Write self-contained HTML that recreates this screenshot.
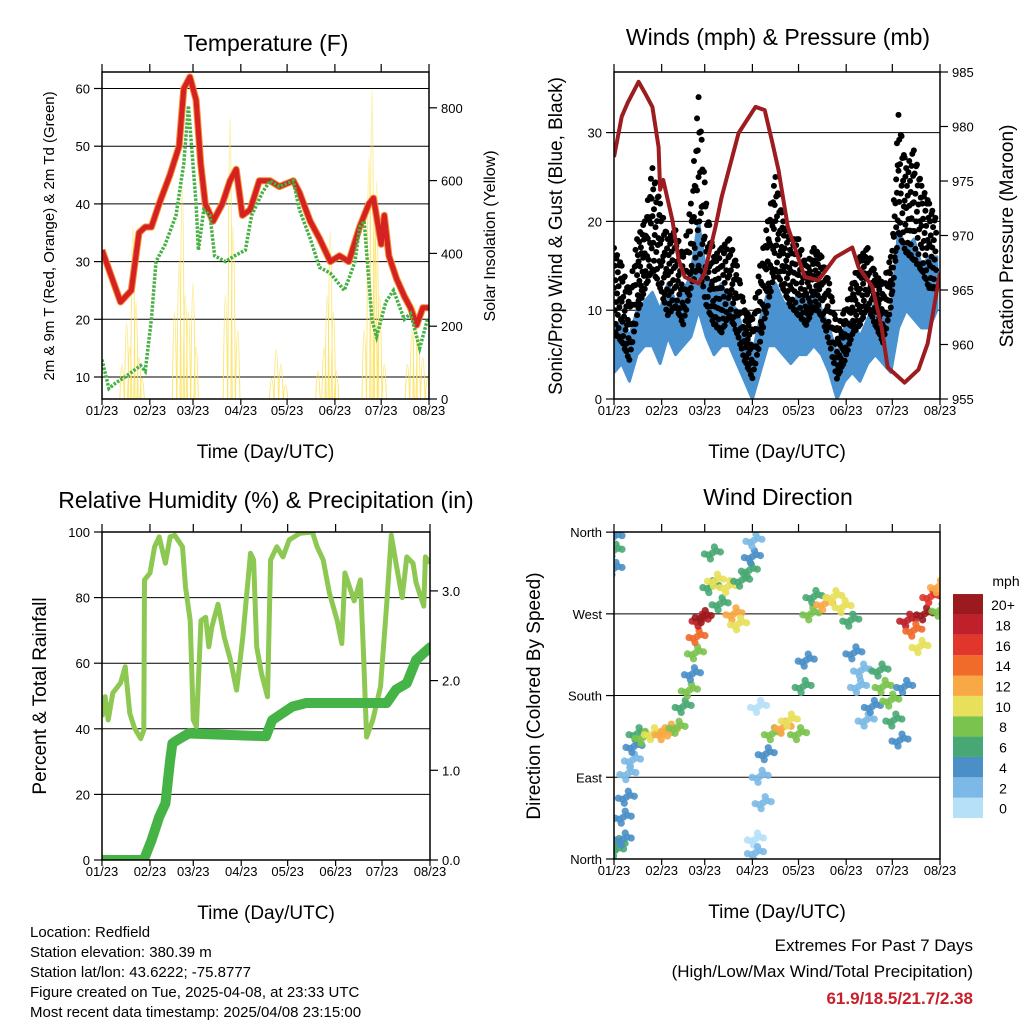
<!DOCTYPE html>
<html><head><meta charset="utf-8"><style>
html,body{margin:0;padding:0;background:#fff}
svg{display:block}
text{font-family:"Liberation Sans",Arial,sans-serif;fill:#000}
</style></head><body>
<svg id="c" width="1024" height="1024" viewBox="0 0 1024 1024" xmlns="http://www.w3.org/2000/svg"></svg>
<script>
// ---------- data ----------
const monthLabels = ["01/23","02/23","03/23","04/23","05/23","06/23","07/23","08/23"];
const monthDays = [0,31,59,90,120,151,181,212];
// Temperature panel
const tempDays = [0,12,19,24,28,32,37,44,50,53,57,61,64,67,72,78,83,87,91,96,102,109,115,124,128,135,141,148,154,160,167,173,176,181,183,186,191,196,200,204,208,212];
const tempVals = [32,23,25,35,36,36,40,45,50,60,62,58,47,40,37,40,44,46,38,39,44,44,43,44,42,37,34,30,31,30,36,40,41,33,38,31,27,24,22,19,22,22];
const dewDays = [0,4.5,9,15,25,28,32,35,41,48,53,56,61,62.5,66,70,73,80,86,93,97,104,109,115,124,128,135,141,148,157,160,164,167,170,175,178,184,189,196,200,206,211];
const dewVals = [13,8,9,10,12,11,20,30,33,38,47,57,40,32,39,38,31,30,31,32,38,42,44,43,44,39,34,29,28,25,27,30,36,37,20,17,23,25,20,21,15,20];
const solarDays = [13,16,18,20,22,24,26,47,50,52,54,56,59,61,80,83,85,88,110,113,116,119,140,144,146,148,150,152,170,173,175,177,178,180,183,198,201,203,205,208,211];
const solarPeaks = [100,220,150,500,280,120,60,250,400,620,300,250,335,150,300,813,500,200,60,143,100,40,80,150,300,486,250,80,200,700,895,500,630,300,100,100,200,270,180,120,60];
const tempTicks = [10,20,30,40,50,60];
const solarTicks = [0,200,400,600,800];
// Winds panel
const presDays = [0,5,9,16,20,25,29,30,32,38,42,46,55,59,66,70,81,92,98,103,107,113,124,133,144,155,159,168,174,178,189,198,204,212];
const presVals = [977.2,980.9,982.2,984.1,983.1,981.8,978.1,974.2,975.1,971.4,967.8,966.2,965.6,966.6,970.8,973.5,979.4,981.8,981.5,978.5,976,970.8,966.2,965.9,968,968.9,967.1,965.3,961.6,957.9,956.5,957.7,960.1,966.6];
const windDays = [0,5,10,15,20,25,30,35,40,45,50,55,60,65,70,75,80,85,90,95,100,105,110,115,120,125,130,135,140,145,150,155,160,165,170,175,180,185,190,195,200,205,210];
const windLo = [3,4,2,5,6,6,4,7,5,6,7,10,7,5,6,6,4,2,0,3,6,6,5,4,5,5,6,5,3,0,2,3,2,4,5,4,3,8,10,9,8,8,10];
const windHi = [8,9,7,10,11,12,10,13,11,12,14,20,14,12,13,11,10,7,5,9,12,13,11,10,12,11,12,10,8,5,8,9,7,9,11,10,9,19,17,18,15,16,16];
const gustLo = [7,6,4,9,12,14,12,9,10,8,12,14,10,8,7,9,7,4,2,6,10,14,12,10,9,8,10,9,6,2,4,7,8,10,8,6,10,18,16,15,14,12,12];
const gustHi = [17,15,12,18,20,26,22,18,19,16,22,34,22,16,17,18,15,10,9,15,20,25,20,18,18,15,17,16,13,8,10,13,16,17,14,13,16,32,26,28,24,22,20];
const windTicks = [0,10,20,30];
const presTicks = [955,960,965,970,975,980,985];
// RH panel
const rhDays = [0,2,4,7,12,15,18,21,25,27,27.5,31,34,37,41,44,47,52,54,57,59,61,64,67,69,71,75,79,83,87,91,96,98,100,103,107,109,113,117,121,128,136,139,143,147,152,155,157,163,167,169,171,175,180,184,187,190,194,197,201,203,208,209,212];
const rhVals = [43.6,49.8,42.7,50.9,54,58.9,44.7,40.2,37,39.6,85.4,87.5,95.5,98.5,90.5,98.5,99,95.5,83.3,73,42.7,40.6,73,74,65,71,78,68,61,51.8,68,93.5,91.5,65,57,49.8,91.5,95.5,92.4,97.6,99.6,100,95.5,91.5,81.4,73,66,87.5,79,85.4,63,37.5,42.7,52.8,78,99,90.5,80,92.4,90.5,84.5,77.4,92.4,90.5];
const rainDays = [0,27,32,37,41,44,45.5,49,56,106,110,123,132,184,190,197,203,212];
const rainVals = [0,0,0.22,0.48,0.63,1.11,1.30,1.34,1.41,1.38,1.56,1.71,1.75,1.75,1.90,1.97,2.23,2.37];
const rhTicks = [0,20,40,60,80,100];
const rainTicks = ["0.0","1.0","2.0","3.0"];
// Wind direction panel
const dirDays = [0,0,0,1,2,6,6,8,9,12,13,15,19,25,32,36,41,45,49,51,53,54,56,58,63,64,66,69,74,78,81,83,88,90,91,94,95,97,92,92,99,103,110,114,120,123,125,128,130,137,143,149,154,156,159,161,164,168,173,175,180,182,186,189,191,195,199,202,206,211,212];
const dirVals = [355,340,320,10,16,22,46,68,94,109,124,138,134,138,138,142,145,168,186,204,227,245,263,267,300,337,307,281,300,270,259,307,318,333,351,168,91,62,22,7,116,138,145,153,138,190,219,270,289,281,289,278,263,227,190,208,153,168,208,190,175,153,131,190,263,252,234,270,289,300,274];
const dirSpeeds = [4,6,4,6,6,4,4,4,2,3,4,6,8,10,12,12,8,6,8,4,8,14,18,20,6,6,10,6,10,12,10,6,6,4,2,1,2,2,1,2,4,8,12,10,8,6,4,8,6,12,10,10,6,4,2,2,2,4,6,8,8,6,4,4,18,14,10,20,16,12,8];
const dirTicks = ["North","East","South","West","North"];
const cbLabels = ["0","2","4","6","8","10","12","14","16","18","20+"];
const cbColors = ["#b6e0f8","#7cb9e6","#4a8fc8","#48a873","#7bc34f","#e8e05a","#f8a945","#f06a2a","#e0362c","#c0202a","#9b1a1d"];

// ---------- helpers ----------
const svg = document.getElementById('c');
const NS = 'http://www.w3.org/2000/svg';
function mk(tag, attrs, name, parent) {
  const el = document.createElementNS(NS, tag);
  for (const k in attrs) el.setAttribute(k, attrs[k]);
  
  
  (parent || svg).appendChild(el);
  return el;
}
function txt(x, y, s, size, name, anchor, extra) {
  const a = Object.assign({x: x, y: y, 'font-size': size, 'text-anchor': anchor || 'middle'}, extra || {});
  const t = mk('text', a, name);
  t.textContent = s;
  return t;
}
const P1 = {x0:102,x1:429,y0:72,y1:399};
const P2 = {x0:614,x1:940,y0:72,y1:399};
const P3 = {x0:102,x1:430,y0:532,y1:860};
const P4 = {x0:614,x1:940,y0:532,y1:859};
const xs = (p, d) => p.x0 + d / 212 * (p.x1 - p.x0);
const yT = v => 377 - (v - 10) * 5.77;
const yS = v => 399 - v * 0.364;
const yW = v => 399 - v * 8.88;
const yP = v => 399 - (v - 955) * 10.9;
const yR = v => 860 - v * 3.28;
const yQ = v => 860 - v * 89.7;
const yD = v => 859 - v * 0.908;
function linePath(p, days, vals, fy) {
  return days.map((d, i) => (i ? 'L' : 'M') + xs(p, d).toFixed(1) + ' ' + fy(vals[i]).toFixed(1)).join(' ');
}
function clip(p, id) {
  const cp = mk('clipPath', {id: id}, id);
  mk('rect', {x: p.x0, y: p.y0, width: p.x1 - p.x0, height: p.y1 - p.y0}, id + '-rect', cp);
}
function frame(p, pre) {
  mk('rect', {x: p.x0, y: p.y0, width: p.x1 - p.x0, height: p.y1 - p.y0, fill: 'none', stroke: '#000', 'stroke-width': 1.5}, pre + '-frame');
  monthDays.forEach((d, i) => {
    const x = xs(p, d);
    mk('line', {x1: x, x2: x, y1: p.y1, y2: p.y1 + 6, stroke: '#000', 'stroke-width': 1.2}, pre + '-x-tick');
    mk('line', {x1: x, x2: x, y1: p.y0, y2: p.y0 - 8, stroke: '#000', 'stroke-width': 1.2}, pre + '-top-tick');
    txt(x, p.y1 + 16, monthLabels[i], 13, pre + '-x-tick-label');
  });
  txt((p.x0 + p.x1) / 2, p.y1 + 59, 'Time (Day/UTC)', 19, pre + '-x-axis-title');
}
function grid(p, y, pre) {
  mk('line', {x1: p.x0, x2: p.x1, y1: y, y2: y, stroke: '#000', 'stroke-width': 1}, pre + '-gridline');
}
function ytick(p, y, label, side, pre, size) {
  if (side === 'l') {
    mk('line', {x1: p.x0 - 8, x2: p.x0, y1: y, y2: y, stroke: '#000', 'stroke-width': 1.2}, pre + '-y-tick');
    txt(p.x0 - 12, y + 5, label, size || 13, pre + '-y-tick-label', 'end');
  } else {
    mk('line', {x1: p.x1, x2: p.x1 + 8, y1: y, y2: y, stroke: '#000', 'stroke-width': 1.2}, pre + '-y2-tick');
    txt(p.x1 + 12, y + 5, label, size || 13, pre + '-y2-tick-label', 'start');
  }
}
function rot(x, y, s, size, name) {
  txt(x, y, s, size, name, 'middle', {transform: 'rotate(-90 ' + x + ' ' + y + ')'});
}

// ---------- Panel 1: Temperature ----------
clip(P1, 'clip1');
tempTicks.forEach(v => grid(P1, yT(v), 'temp'));
const g1 = mk('g', {'clip-path': 'url(#clip1)'}, 'temperature-plot-area');
solarDays.forEach((d, i) => {
  const x = xs(P1, d), w = 2.2;
  mk('path', {d: 'M' + (x - w) + ' ' + yS(0) + ' Q' + x + ' ' + (yS(solarPeaks[i]) - (yS(0) - yS(solarPeaks[i])) * 0.9) + ' ' + (x + w) + ' ' + yS(0), fill: 'none', stroke: '#fbe25a', 'stroke-width': 1, 'stroke-opacity': 0.85}, 'solar-insolation-spike', g1);
});
mk('path', {d: linePath(P1, tempDays, tempVals, yT), fill: 'none', stroke: '#f58a2b', 'stroke-width': 7, 'stroke-linejoin': 'round'}, 'temp-9m-orange-line', g1);
mk('path', {d: linePath(P1, tempDays, tempVals, yT), fill: 'none', stroke: '#d42224', 'stroke-width': 5, 'stroke-linejoin': 'round'}, 'temp-2m-red-line', g1);
mk('path', {d: linePath(P1, dewDays, dewVals, yT), fill: 'none', stroke: '#45b043', 'stroke-width': 3.5, 'stroke-dasharray': '2.5 1.5'}, 'dewpoint-green-line', g1);
frame(P1, 'temp');
tempTicks.forEach(v => ytick(P1, yT(v), String(v), 'l', 'temp'));
solarTicks.forEach(v => ytick(P1, yS(v), String(v), 'r', 'solar'));
txt(266, 51, 'Temperature (F)', 23, 'temperature-title');
rot(54, 236, '2m & 9m T (Red, Orange) & 2m Td (Green)', 15, 'temperature-y-axis-title');
rot(495, 236, 'Solar Insolation (Yellow)', 16, 'solar-y-axis-title');

// ---------- Panel 2: Winds ----------
clip(P2, 'clip2');
windTicks.slice(1).forEach(v => grid(P2, yW(v), 'wind'));
const g2 = mk('g', {'clip-path': 'url(#clip2)'}, 'winds-plot-area');
const bandTop = windDays.map((d, i) => xs(P2, d).toFixed(1) + ',' + yW(windHi[i]).toFixed(1));
const bandBot = windDays.map((d, i) => xs(P2, d).toFixed(1) + ',' + yW(windLo[i]).toFixed(1)).reverse();
mk('polygon', {points: bandTop.concat(bandBot).join(' '), fill: '#4a92d0', stroke: '#4a92d0', 'stroke-width': 3, 'stroke-linejoin': 'round'}, 'sonic-wind-blue-band', g2);
const fracs = [0.05, 0.3, 0.55, 0.8, 1.0];
for (let i = 0; i < windDays.length - 1; i++) {
  for (let s = 0; s < 5; s++) {
    const t = s / 5;
    const d = windDays[i] + t * (windDays[i + 1] - windDays[i]);
    const lo = gustLo[i] + t * (gustLo[i + 1] - gustLo[i]);
    const hi = gustHi[i] + t * (gustHi[i + 1] - gustHi[i]);
    fracs.forEach((f, k) => {
      const ff = (f + (s % 2) * 0.12) % 1.05;
      mk('circle', {cx: xs(P2, d + (k % 2) * 0.5), cy: yW(lo + (hi - lo) * ff), r: 3, fill: '#000'}, 'gust-dot', g2);
    });
  }
}
mk('path', {d: linePath(P2, presDays, presVals, yP), fill: 'none', stroke: '#9c1c1f', 'stroke-width': 4, 'stroke-linejoin': 'round'}, 'station-pressure-line', g2);
frame(P2, 'wind');
windTicks.forEach(v => ytick(P2, yW(v), String(v), 'l', 'wind'));
presTicks.forEach(v => ytick(P2, yP(v), String(v), 'r', 'pressure'));
txt(778, 45, 'Winds (mph) & Pressure (mb)', 23, 'winds-title');
rot(562, 236, 'Sonic/Prop Wind & Gust (Blue, Black)', 19, 'wind-y-axis-title');
rot(1013, 236, 'Station Pressure (Maroon)', 19, 'pressure-y-axis-title');

// ---------- Panel 3: RH ----------
clip(P3, 'clip3');
rhTicks.slice(1, 5).forEach(v => grid(P3, yR(v), 'rh'));
const g3 = mk('g', {'clip-path': 'url(#clip3)'}, 'humidity-plot-area');
mk('path', {d: linePath(P3, rhDays, rhVals, yR), fill: 'none', stroke: '#8dc853', 'stroke-width': 5, 'stroke-linejoin': 'round'}, 'relative-humidity-line', g3);
mk('path', {d: linePath(P3, rainDays, rainVals, yQ), fill: 'none', stroke: '#46b347', 'stroke-width': 10, 'stroke-linejoin': 'round', 'stroke-linecap': 'round'}, 'total-precipitation-line', g3);
frame(P3, 'rh');
rhTicks.forEach(v => ytick(P3, yR(v), String(v), 'l', 'rh'));
rainTicks.forEach(v => ytick(P3, yQ(parseFloat(v)), v, 'r', 'rain'));
txt(266, 508, 'Relative Humidity (%) & Precipitation (in)', 23, 'humidity-title');
rot(46, 696, 'Percent & Total Rainfall', 19, 'humidity-y-axis-title');

// ---------- Panel 4: Wind direction ----------
clip(P4, 'clip4');
[90, 180, 270].forEach(v => grid(P4, yD(v), 'dir'));
const g4 = mk('g', {'clip-path': 'url(#clip4)'}, 'direction-plot-area');
const offs = [[0,0],[4,-2],[-4,2],[8,-1],[-8,1],[2,-6],[-2,6]];
dirDays.forEach((d, i) => {
  const col = cbColors[Math.min(10, Math.floor(dirSpeeds[i] / 2))];
  offs.forEach(o => {
    mk('circle', {cx: xs(P4, d) + o[0], cy: yD(dirVals[i]) + o[1], r: 3.6, fill: col, 'fill-opacity': 0.9}, 'wind-direction-point', g4);
  });
});
frame(P4, 'dir');
dirTicks.forEach((s, i) => ytick(P4, yD(i * 90), s, 'l', 'dir', 13));
txt(778, 505, 'Wind Direction', 23, 'wind-direction-title');
rot(540, 696, 'Direction (Colored By Speed)', 19, 'direction-y-axis-title');
txt(1006, 586, 'mph', 14, 'colorbar-title');
cbColors.forEach((c, i) => {
  const y = 818 - (i + 1) * 20.36;
  mk('rect', {x: 953, y: y, width: 30, height: 20.4, fill: c}, 'colorbar-swatch');
  txt(1003, y + 16, cbLabels[i], 14, 'colorbar-label');
});

// ---------- footer ----------
const info = ["Location: Redfield","Station elevation: 380.39 m","Station lat/lon: 43.6222; -75.8777","Figure created on Tue, 2025-04-08, at 23:33 UTC","Most recent data timestamp: 2025/04/08 23:15:00"];
info.forEach((s, i) => txt(30, 937 + i * 20, s, 15, 'station-info-line', 'start'));
txt(973, 951, 'Extremes For Past 7 Days', 17, 'extremes-title', 'end');
txt(973, 977, '(High/Low/Max Wind/Total Precipitation)', 17, 'extremes-subtitle', 'end');
const ex = txt(973, 1004, '61.9/18.5/21.7/2.38', 17, 'extremes-values', 'end', {'font-weight': 'bold'});
ex.style.fill = '#c8202a';
</script>
</body></html>
